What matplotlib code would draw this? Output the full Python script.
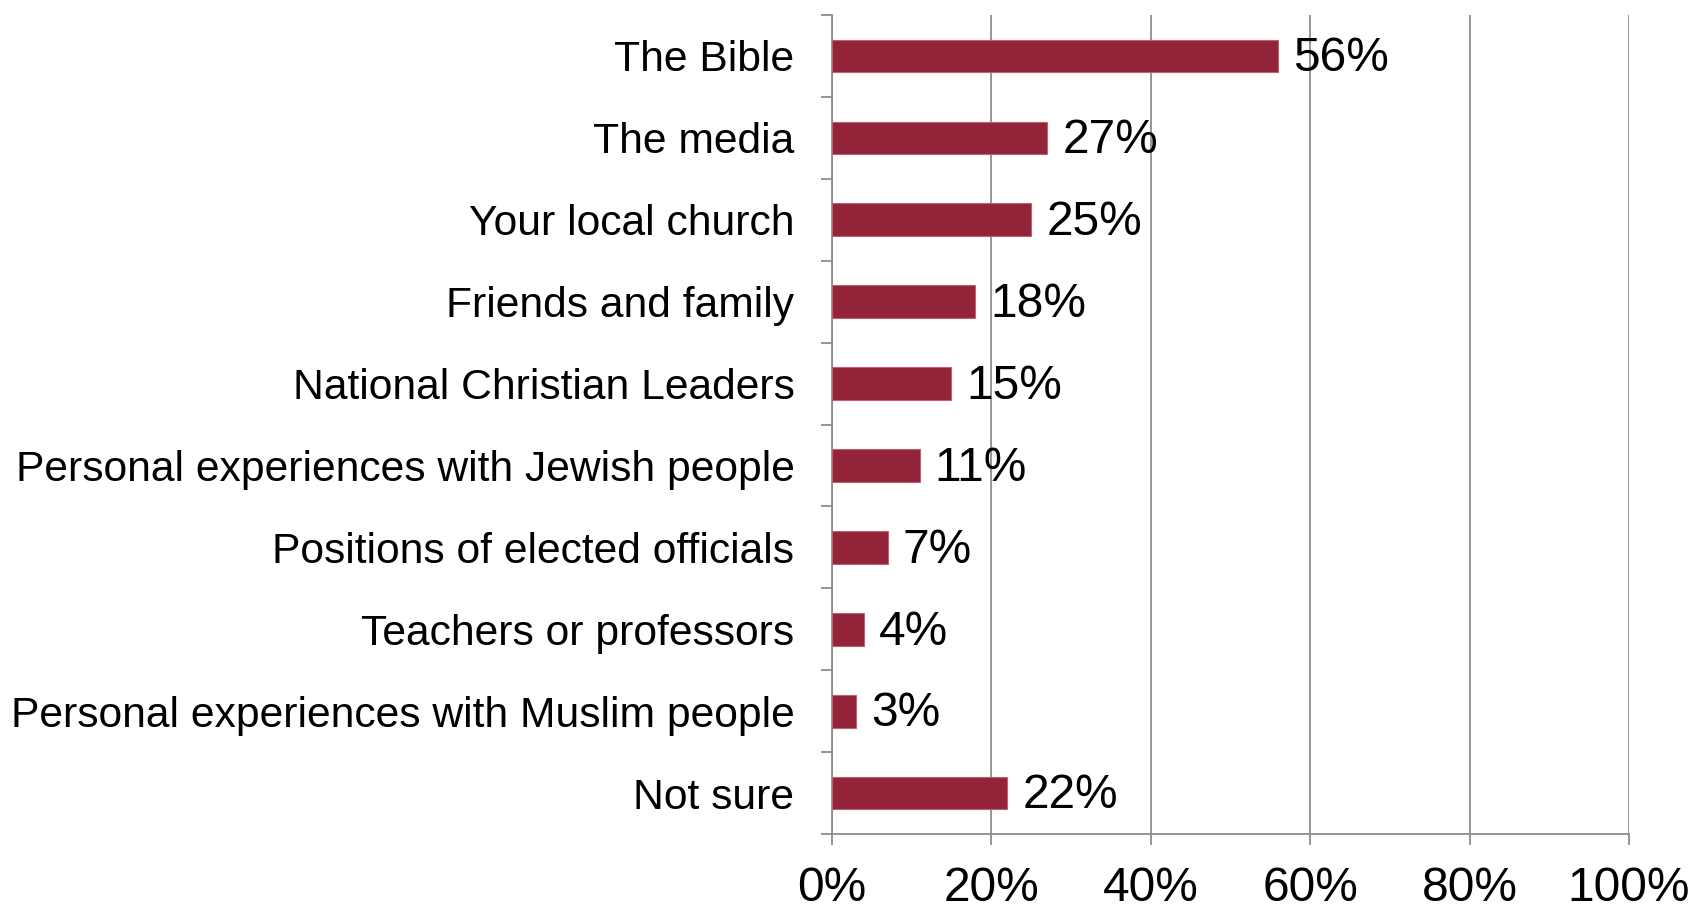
import numpy as np
import matplotlib.pyplot as plt

plt.rcParams['font.family'] = ['Liberation Sans', 'DejaVu Sans']

sources = ['The Bible', 'The media', 'Your local church', 'Friends and family',
           'National Christian Leaders', 'Personal experiences with Jewish people',
           'Positions of elected officials', 'Teachers or professors',
           'Personal experiences with Muslim people', 'Not sure']
pct = [56, 27, 25, 18, 15, 11, 7, 4, 3, 22]
xticks = [0, 20, 40, 60, 80, 100]

bar_col = '#922339'
grey = '#8c8c8c'

fig = plt.figure(figsize=(16.94, 9.11), dpi=100)
ax = fig.add_axes([0.4911, 0.0845, 0.4705, 0.899])

ypos = np.arange(len(sources))
ax.barh(ypos, pct, height=0.4, color=bar_col, edgecolor='#b86272', linewidth=0.8, zorder=3)

for y, v in zip(ypos, pct):
    ax.annotate(f'{v}%', (v, y), xytext=(11, -2), textcoords='offset points',
                va='center', ha='left', fontsize=34.5, color='black', zorder=4)

ax.set_ylim(len(sources) - 0.5, -0.5)
ax.set_xlim(0, 100)

ax.set_xticks(xticks)
ax.set_xticklabels([f'{t}%' for t in xticks], fontsize=34.5)
ax.xaxis.grid(True, color=grey, linewidth=1.3, zorder=0)

# category labels sit at centres, tick marks at the boundaries
ax.set_yticks(ypos)
ax.set_yticklabels(sources, fontsize=30.7)
ax.tick_params(axis='y', length=0, pad=27)
ax.set_yticks(np.arange(len(sources) + 1) - 0.5, minor=True)
ax.tick_params(axis='y', which='minor', length=8, width=1.3, color=grey, direction='out')
ax.tick_params(axis='x', length=8, width=1.3, color=grey, direction='out', pad=15)

for s in ['top', 'right']:
    ax.spines[s].set_visible(False)
for s in ['left', 'bottom']:
    ax.spines[s].set_color(grey)
    ax.spines[s].set_linewidth(1.3)

fig.savefig('out.png', dpi=100)
